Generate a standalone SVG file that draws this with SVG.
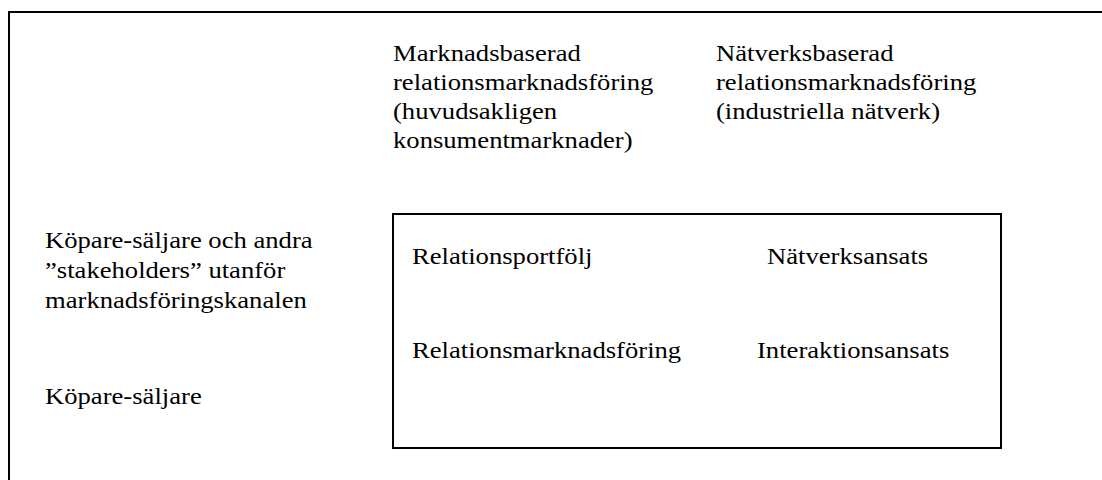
<svg xmlns="http://www.w3.org/2000/svg" width="1102" height="480" viewBox="0 0 1102 480">
  <style>
    .t { font-family: "Liberation Serif", "Times New Roman", serif; font-size: 24px; fill: #000; }
    .frame { fill: none; stroke: #000; stroke-width: 2; }
  </style>
  <rect width="1102" height="480" fill="#fff"/>

  <!-- page frame: top and left edges -->
  <g id="frame">
    <path class="frame" d="M9,480 V12 H1102"/>
  </g>

  <!-- column headings -->
  <g id="col-market" transform="translate(393,0) scale(1.11,1)">
    <text class="t" x="0" y="61">Marknadsbaserad</text>
    <text class="t" x="0" y="90">relationsmarknadsföring</text>
    <text class="t" x="0" y="119">(huvudsakligen</text>
    <text class="t" x="0" y="148">konsumentmarknader)</text>
  </g>
  <g id="col-network" transform="translate(716,0) scale(1.11,1)">
    <text class="t" x="0" y="61">Nätverksbaserad</text>
    <text class="t" x="0" y="90">relationsmarknadsföring</text>
    <text class="t" x="0" y="119">(industriella nätverk)</text>
  </g>

  <!-- row headings -->
  <g id="row-stakeholders" transform="translate(45,0) scale(1.11,1)">
    <text class="t" x="0" y="248">Köpare-säljare och andra</text>
    <text class="t" x="0" y="278">”stakeholders” utanför</text>
    <text class="t" x="0" y="308">marknadsföringskanalen</text>
  </g>
  <g id="row-buyer-seller" transform="translate(45,0) scale(1.11,1)">
    <text class="t" x="0" y="404">Köpare-säljare</text>
  </g>

  <!-- matrix box -->
  <g id="matrix">
    <rect class="frame" x="393" y="214" width="608" height="234"/>
  </g>
  <g id="cell-portfolio" transform="translate(412,0) scale(1.11,1)">
    <text class="t" x="0" y="264">Relationsportfölj</text>
  </g>
  <g id="cell-network" transform="translate(767,0) scale(1.11,1)">
    <text class="t" x="0" y="264">Nätverksansats</text>
  </g>
  <g id="cell-rm" transform="translate(412,0) scale(1.11,1)">
    <text class="t" x="0" y="358">Relationsmarknadsföring</text>
  </g>
  <g id="cell-interaction" transform="translate(757,0) scale(1.11,1)">
    <text class="t" x="0" y="358">Interaktionsansats</text>
  </g>

  <g id="connectors"></g>
</svg>
